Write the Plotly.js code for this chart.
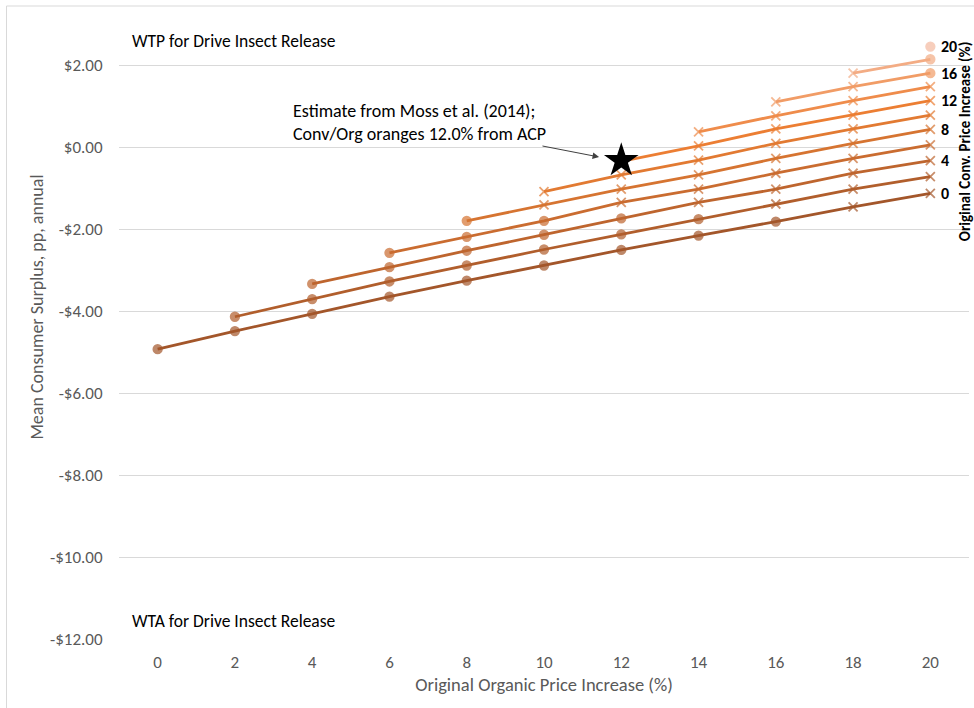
<!DOCTYPE html>
<html>
<head>
<meta charset="utf-8">
<script src="https://cdn.plot.ly/plotly-3.0.1.min.js"></script>
<style>html,body{margin:0;padding:0;background:#fff;}#chart{width:974px;height:708px;}</style>
</head>
<body>
<div id="chart"></div>
<script>
// Original organic price increase (%) — x categories
const orgPct = [0, 2, 4, 6, 8, 10, 12, 14, 16, 18, 20];
// Original conventional price increase (%) — one series each
const convPct = [0, 2, 4, 6, 8, 10, 12, 14, 16, 18, 20];

// Mean consumer surplus (pp, annual), each series starts at organic = conv
const cs_conv0  = [-4.93, -4.49, -4.07, -3.65, -3.26, -2.89, -2.51, -2.16, -1.82, -1.46, -1.13];
const cs_conv2  = [-4.14, -3.71, -3.28, -2.89, -2.50, -2.13, -1.76, -1.39, -1.03, -0.72];
const cs_conv4  = [-3.34, -2.93, -2.53, -2.14, -1.74, -1.35, -1.03, -0.64, -0.33];
const cs_conv6  = [-2.58, -2.19, -1.80, -1.35, -1.03, -0.64, -0.28, 0.05];
const cs_conv8  = [-1.80, -1.41, -1.03, -0.68, -0.28, 0.09, 0.43];
const cs_conv10 = [-1.09, -0.68, -0.32, 0.09, 0.44, 0.78];
const cs_conv12 = [-0.35, 0.03, 0.44, 0.78, 1.13];
const cs_conv14 = [0.37, 0.76, 1.13, 1.47];
const cs_conv16 = [1.10, 1.47, 1.80];
const cs_conv18 = [1.80, 2.14];
const cs_conv20 = [2.45];

// Point type flags (1 = dot marker, 0 = cross marker) as in the source
const dot_conv0  = [1, 1, 1, 1, 1, 1, 1, 1, 1, 0, 0];
const dot_conv2  = [1, 1, 1, 1, 1, 1, 1, 0, 0, 0];
const dot_conv4  = [1, 1, 1, 1, 1, 0, 0, 0, 0];
const dot_conv6  = [1, 1, 1, 0, 0, 0, 0, 0];
const dot_conv8  = [1, 0, 0, 0, 0, 0, 0];
const dot_conv10 = [0, 0, 0, 0, 0, 0];
const dot_conv12 = [0, 0, 0, 0, 0];
const dot_conv14 = [0, 0, 0, 0];
const dot_conv16 = [0, 0, 1];
const dot_conv18 = [0, 1];
const dot_conv20 = [1];

// Moss et al. (2014) estimate
const mossOrg = [12];
const mossCS = [-0.33];

// Series that carry an end label
const labelConv = [0, 4, 8, 12, 16, 20];

// Y-axis ticks
const yTickVals = [-12, -10, -8, -6, -4, -2, 0, 2];
const yTickText = ['-$12.00', '-$10.00', '-$8.00', '-$6.00', '-$4.00', '-$2.00', '$0.00', '$2.00'];

const csSeries = [cs_conv0, cs_conv2, cs_conv4, cs_conv6, cs_conv8, cs_conv10, cs_conv12, cs_conv14, cs_conv16, cs_conv18, cs_conv20];
const dotSeries = [dot_conv0, dot_conv2, dot_conv4, dot_conv6, dot_conv8, dot_conv10, dot_conv12, dot_conv14, dot_conv16, dot_conv18, dot_conv20];

const colors = ['#A3562A', '#B15E2C', '#BE652E', '#CA6C30', '#D67431', '#E27A32', '#EC7E33', '#EF8C4B', '#F19C66', '#F3AC84', '#F4BAA0'];
const FONT = 'Carlito, Lato, "Open Sans", sans-serif';

const traces = [];
convPct.forEach((c, i) => {
  const start = orgPct.indexOf(c);
  const xs = orgPct.slice(start);
  traces.push({
    type: 'scatter',
    mode: 'lines+markers',
    name: String(c),
    x: xs,
    y: csSeries[i],
    line: {color: colors[i], width: 2.8},
    marker: {
      symbol: dotSeries[i].map(d => d ? 'circle' : 'x-thin'),
      size: dotSeries[i].map(d => d ? 8.5 : 9),
      color: colors[i],
      line: {color: colors[i], width: 1.8}
    },
    cliponaxis: false,
    hoverinfo: 'x+y+name'
  });
});

traces.push({
  type: 'scatter',
  mode: 'markers',
  name: 'Moss et al. (2014)',
  x: mossOrg,
  y: mossCS,
  marker: {symbol: 'star', size: 26, color: '#000000'},
  cliponaxis: false
});

const annotations = [];
labelConv.forEach(c => {
  const i = convPct.indexOf(c);
  const s = csSeries[i];
  annotations.push({
    x: orgPct[orgPct.length - 1], y: s[s.length - 1], xref: 'x', yref: 'y',
    text: String(c), showarrow: false, xanchor: 'left', yanchor: 'middle', xshift: 9,
    font: {family: FONT, size: 16, color: '#000000', weight: 'bold'}
  });
});

annotations.push({
  xref: 'paper', yref: 'paper', x: (964 - 119.4) / 849.2, y: 0.81,
  text: '<b>Original Conv. Price Increase (%)</b>', textangle: -90, showarrow: false,
  xanchor: 'center', yanchor: 'middle',
  font: {family: FONT, size: 15, color: '#000000'}
});

annotations.push({
  xref: 'x', yref: 'y', x: -0.725, y: 2.585,
  text: 'WTP for Drive Insect Release', showarrow: false, xanchor: 'left', yanchor: 'middle',
  font: {family: FONT, size: 17.5, color: '#000000'}
});
annotations.push({
  xref: 'x', yref: 'y', x: -0.725, y: -11.56,
  text: 'WTA for Drive Insect Release', showarrow: false, xanchor: 'left', yanchor: 'middle',
  font: {family: FONT, size: 17.5, color: '#000000'}
});

annotations.push({
  xref: 'x', yref: 'y', x: 11.425, y: -0.244,
  text: 'Estimate from Moss et al. (2014);<br>Conv/Org oranges 12.0% from ACP',
  align: 'left', showarrow: true, ax: -180, ay: -35,
  arrowhead: 2, arrowsize: 1.3, arrowwidth: 1, arrowcolor: '#404040',
  font: {family: FONT, size: 18, color: '#000000'}
});

annotations.push({
  xref: 'paper', yref: 'paper', x: (37 - 119.4) / 849.2, y: (639 - 307) / 615,
  text: 'Mean Consumer Surplus, pp, annual', textangle: -90, showarrow: false,
  xanchor: 'center', yanchor: 'middle',
  font: {family: FONT, size: 18, color: '#595959'}
});

const layout = {
  width: 974, height: 708,
  margin: {l: 119.4, r: 5.4, t: 24, b: 69},
  paper_bgcolor: '#ffffff', plot_bgcolor: '#ffffff',
  showlegend: false,
  font: {family: FONT, size: 17, color: '#595959'},
  xaxis: {
    range: [-1, 21], tickmode: 'array', tickvals: orgPct,
    showgrid: false, zeroline: false, showline: false,
    ticks: 'outside', ticklen: 8, tickcolor: 'rgba(0,0,0,0)',
    tickfont: {family: FONT, size: 17, color: '#595959'},
    title: {text: 'Original Organic Price Increase (%)', font: {family: FONT, size: 18.5, color: '#595959'}, standoff: 5},
    fixedrange: true
  },
  yaxis: {
    range: [-12, 3], tickmode: 'array', tickvals: yTickVals, ticktext: yTickText,
    showgrid: true, gridcolor: '#D9D9D9', gridwidth: 1,
    zeroline: false, showline: false,
    ticks: 'outside', ticklen: 12, tickcolor: 'rgba(0,0,0,0)',
    tickfont: {family: FONT, size: 17, color: '#595959'},
    fixedrange: true
  },
  shapes: [
    {type: 'line', xref: 'paper', yref: 'paper', x0: (7 - 119.4) / 849.2, x1: (7 - 119.4) / 849.2, y0: (639 - 6) / 615, y1: (639 - 712) / 615, line: {color: '#D9D9D9', width: 1}},
    {type: 'line', xref: 'paper', yref: 'paper', x0: (7 - 119.4) / 849.2, x1: (980 - 119.4) / 849.2, y0: (639 - 6) / 615, y1: (639 - 6) / 615, line: {color: '#D9D9D9', width: 1}}
  ],
  annotations: annotations
};

Plotly.newPlot('chart', traces, layout, {displayModeBar: false, staticPlot: true});
</script>
</body>
</html>
